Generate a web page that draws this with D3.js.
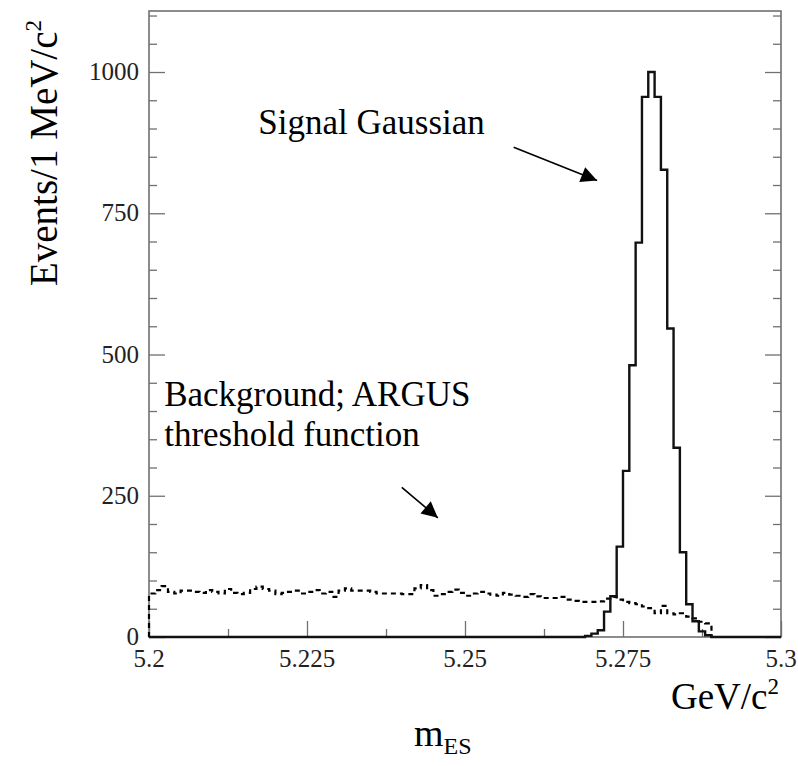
<!DOCTYPE html>
<html>
<head>
<meta charset="utf-8">
<script src="https://cdn.jsdelivr.net/npm/d3@7"></script>
<style>
  body { margin: 0; background: #fff; }
  svg, text, tspan { font-family: 'Liberation Serif', 'Times New Roman', Times, serif; }
</style>
</head>
<body>
<svg id="chart" width="798" height="766"></svg>
<script>
// bin edges: 100 bins of 1 MeV from 5.2 to 5.3 GeV/c^2
const binLow = 5.2;
const binWidth = 0.001;

// signal gaussian, events per bin (bins 69..88 non-zero)
const signalCounts = [
  0, 0, 0, 0, 0, 0, 0, 0, 0, 0,
  0, 0, 0, 0, 0, 0, 0, 0, 0, 0,
  0, 0, 0, 0, 0, 0, 0, 0, 0, 0,
  0, 0, 0, 0, 0, 0, 0, 0, 0, 0,
  0, 0, 0, 0, 0, 0, 0, 0, 0, 0,
  0, 0, 0, 0, 0, 0, 0, 0, 0, 0,
  0, 0, 0, 0, 0, 0, 0, 0, 0, 2,
  6, 12, 45, 72, 160, 294, 481, 698, 956, 1000,
  956, 827, 546, 335, 150, 58, 28, 10, 3, 0,
  0, 0, 0, 0, 0, 0, 0, 0, 0, 0
];

// ARGUS background, events per bin
const backgroundCounts = [
  77, 83, 90, 80, 77, 82, 82, 80, 78, 83,
  80, 77, 85, 78, 76, 78, 85, 89, 85, 82,
  76, 78, 80, 82, 77, 80, 83, 77, 80, 71,
  82, 86, 82, 82, 82, 80, 77, 77, 77, 77,
  76, 76, 86, 92, 83, 73, 76, 80, 84, 78,
  73, 77, 80, 77, 75, 73, 78, 75, 73, 71,
  76, 72, 69, 69, 69, 71, 66, 64, 62, 62,
  62, 63, 68, 71, 66, 62, 60, 58, 54, 51,
  42, 55, 42, 40, 42, 36, 33, 27, 24, 0,
  0, 0, 0, 0, 0, 0, 0, 0, 0, 0
];

const xTicks = [5.2, 5.225, 5.25, 5.275, 5.3];
const xMinorTicks = [5.2125, 5.2375, 5.2625, 5.2875];
const yTicks = [0, 250, 500, 750, 1000];
const yMinorTicks = [50, 100, 150, 200, 300, 350, 400, 450, 550, 600, 650, 700, 800, 850, 900, 950, 1050, 1100];

const serif = "'Liberation Serif', 'Times New Roman', Times, serif";

const svg = d3.select('#chart').attr('font-family', serif);
const width = +svg.attr('width');
const height = +svg.attr('height');
const margin = { top: 11, right: 17, bottom: 129, left: 149 };

const x = d3.scaleLinear()
  .domain([5.2, 5.3])
  .range([margin.left, width - margin.right]);

const y = d3.scaleLinear()
  .domain([0, 1108])
  .range([height - margin.bottom, margin.top]);

const frameColor = '#707070';

// frame
svg.append('rect')
  .attr('x', x(5.2))
  .attr('y', y(1108))
  .attr('width', x(5.3) - x(5.2))
  .attr('height', y(0) - y(1108))
  .attr('fill', 'none')
  .attr('stroke', frameColor)
  .attr('stroke-width', 1.6);

// ticks pointing inwards
function tickAxis(axis, ticks, size, tr) {
  const g = svg.append('g')
    .attr('transform', tr)
    .call(axis.tickValues(ticks).tickSize(size).tickFormat(''));
  g.select('.domain').remove();
  g.selectAll('.tick line').attr('stroke', frameColor).attr('stroke-width', 1.3);
  return g;
}
const bottomT = `translate(0,${y(0)})`;
const leftT = `translate(${x(5.2)},0)`;
const rightT = `translate(${x(5.3)},0)`;
tickAxis(d3.axisBottom(x), xTicks, -16, bottomT);
tickAxis(d3.axisBottom(x), xMinorTicks, -8, bottomT);
tickAxis(d3.axisLeft(y), yTicks, -16, leftT);
tickAxis(d3.axisLeft(y), yMinorTicks, -8, leftT);
tickAxis(d3.axisRight(y), yTicks, -16, rightT);
tickAxis(d3.axisRight(y), yMinorTicks, -8, rightT);

// tick labels
svg.append('g').selectAll('text')
  .data(xTicks)
  .join('text')
  .attr('x', d => x(d))
  .attr('y', y(0) + 30)
  .attr('text-anchor', 'middle')
  .attr('font-size', 25)
  .attr('fill', '#222')
  .text(d => String(+d.toFixed(3)));

svg.append('g').selectAll('text')
  .data(yTicks)
  .join('text')
  .attr('x', x(5.2) - 10)
  .attr('y', d => y(d) + 8)
  .attr('text-anchor', 'end')
  .attr('font-size', 25)
  .attr('fill', '#222')
  .text(d => d);

// histogram outline as a step path
function histPoints(counts) {
  const pts = [[binLow, 0]];
  counts.forEach((c, i) => {
    pts.push([binLow + i * binWidth, c]);
    pts.push([binLow + (i + 1) * binWidth, c]);
  });
  pts.push([binLow + counts.length * binWidth, 0]);
  return pts;
}
const line = d3.line().x(d => x(d[0])).y(d => y(d[1]));

svg.append('path')
  .attr('d', line(histPoints(backgroundCounts)))
  .attr('fill', 'none')
  .attr('stroke', '#000')
  .attr('stroke-width', 2.2)
  .attr('stroke-dasharray', '5,4');

svg.append('path')
  .attr('d', line(histPoints(signalCounts)))
  .attr('fill', 'none')
  .attr('stroke', '#111')
  .attr('stroke-width', 2.4);

// axis titles
svg.append('text')
  .attr('transform', 'translate(57,20) rotate(-90)')
  .attr('text-anchor', 'end')
  .attr('font-size', 39)
  .html('Events/1 MeV/c<tspan font-size="23" dy="-16">2</tspan>');

svg.append('text')
  .attr('x', x(5.3) - 2)
  .attr('y', y(0) + 72)
  .attr('text-anchor', 'end')
  .attr('font-size', 37)
  .html('GeV/c<tspan font-size="23" dy="-15">2</tspan>');

svg.append('text')
  .attr('x', 414)
  .attr('y', y(0) + 109)
  .attr('font-size', 38)
  .html('m<tspan font-size="24" dy="8">ES</tspan>');

// annotations
const defs = svg.append('defs');
defs.append('marker')
  .attr('id', 'head')
  .attr('viewBox', '0 0 10 10')
  .attr('refX', 10).attr('refY', 5)
  .attr('markerWidth', 22).attr('markerHeight', 16)
  .attr('markerUnits', 'userSpaceOnUse')
  .attr('orient', 'auto')
  .append('path').attr('d', 'M0,0 L10,5 L0,10 Z').attr('fill', '#000');

const notes = [
  { lines: ['Signal Gaussian'], at: [5.2173, 890], from: [5.2577, 867], to: [5.2709, 808] },
  { lines: ['Background; ARGUS', 'threshold function'], at: [5.2024, 408], from: [5.2400, 265], to: [5.2457, 211] }
];
notes.forEach(n => {
  svg.append('text')
    .attr('x', x(n.at[0]))
    .attr('y', y(n.at[1]))
    .attr('font-size', 35)
    .selectAll('tspan')
    .data(n.lines)
    .join('tspan')
    .attr('x', x(n.at[0]))
    .attr('dy', (d, i) => i ? 40 : 0)
    .text(d => d);
  svg.append('line')
    .attr('x1', x(n.from[0])).attr('y1', y(n.from[1]))
    .attr('x2', x(n.to[0])).attr('y2', y(n.to[1]))
    .attr('stroke', '#000')
    .attr('stroke-width', 1.6)
    .attr('marker-end', 'url(#head)');
});
</script>
</body>
</html>
